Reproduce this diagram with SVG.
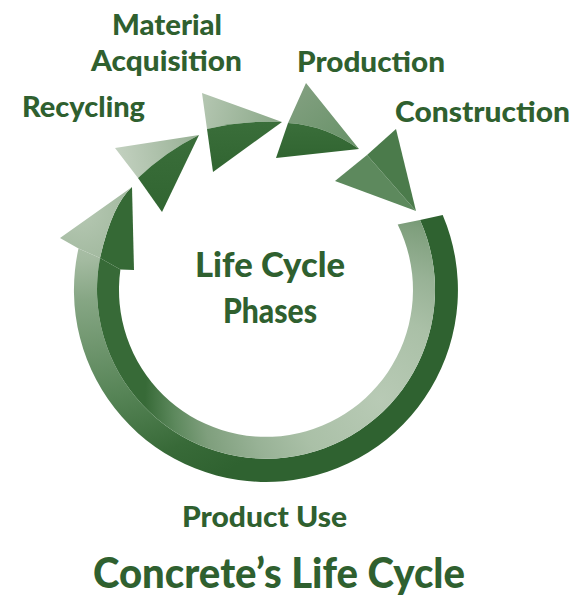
<svg xmlns="http://www.w3.org/2000/svg" width="572" height="599" viewBox="0 0 572 599">
  <style>
    .lbl { font-family: Lato, "Open Sans", "Liberation Sans", sans-serif; font-weight: 900; fill: #2f602f; }
    .dark { fill: #356935; }
  </style>
  <defs>
    <radialGradient id="outerGrad" gradientUnits="userSpaceOnUse" cx="80" cy="210" r="300">
      <stop offset="0" stop-color="#b6c8b3"/>
      <stop offset="0.17" stop-color="#a3baa0"/>
      <stop offset="0.3" stop-color="#86a684"/>
      <stop offset="0.63" stop-color="#568456"/>
      <stop offset="0.85" stop-color="#386a38"/>
      <stop offset="1" stop-color="#2f6230"/>
    </radialGradient>
    <radialGradient id="innerGrad" gradientUnits="userSpaceOnUse" cx="380" cy="400" r="235">
      <stop offset="0" stop-color="#b8cab5"/>
      <stop offset="0.35" stop-color="#aac0a7"/>
      <stop offset="0.55" stop-color="#98b296"/>
      <stop offset="0.75" stop-color="#7f9f7d"/>
      <stop offset="0.88" stop-color="#5c885c"/>
      <stop offset="1" stop-color="#376a37"/>
    </radialGradient>
    <linearGradient id="t1Light" gradientUnits="userSpaceOnUse" x1="115" y1="148" x2="199" y2="135">
      <stop offset="0" stop-color="#c3d1c0"/>
      <stop offset="1" stop-color="#97b094"/>
    </linearGradient>
    <linearGradient id="t2Light" gradientUnits="userSpaceOnUse" x1="202" y1="100" x2="282" y2="122">
      <stop offset="0" stop-color="#b4c6b1"/>
      <stop offset="1" stop-color="#8aa888"/>
    </linearGradient>
    <linearGradient id="t3Light" gradientUnits="userSpaceOnUse" x1="300" y1="90" x2="340" y2="140">
      <stop offset="0" stop-color="#819f7f"/>
      <stop offset="1" stop-color="#6c946c"/>
    </linearGradient>
    <linearGradient id="darkGrad" x1="0" y1="0" x2="0" y2="1">
      <stop offset="0" stop-color="#3a6e3a"/>
      <stop offset="1" stop-color="#316531"/>
    </linearGradient>
  </defs>

  <g id="connectors">
    <g id="cycle-ring">
      <path id="ring-outer-band" fill="url(#outerGrad)" d="M442.7,215 A192,192 0 1,1 78.5,248.4 L100,258 A169,169 0 1,0 420,220 Z"/>
      <path id="ring-inner-band" fill="url(#innerGrad)" d="M420,220 A169,169 0 1,1 100,258 L120.4,269.5 A147,147 0 1,0 397.7,224.6 Z"/>
      <path id="arrowhead-dark" class="dark" d="M132,187 L134,270 L120.4,269.5 L100,258 Q112,205 132,187 Z"/>
      <path id="arrowhead-light" fill="url(#outerGrad)" d="M78.5,248.4 L60,238 L132,187 Q112,205 100,258 Z"/>
    </g>
    <g id="arrow-recycling">
      <path fill="url(#t1Light)" d="M115,148 L199,135 Q165,152 138,178 Z"/>
      <path fill="url(#darkGrad)" d="M199,135 L162,212 L138,178 Q165,152 199,135 Z"/>
    </g>
    <g id="arrow-acquisition">
      <path fill="url(#t2Light)" d="M202,93 L282,122 Q245,120 207,129 Z"/>
      <path fill="url(#darkGrad)" d="M282,122 L213,172 L207,129 Q245,120 282,122 Z"/>
    </g>
    <g id="arrow-production">
      <path fill="url(#t3Light)" d="M306,83 L359,149 Q325,125 288,123 Z"/>
      <path fill="url(#darkGrad)" d="M359,149 L276,158 L288,123 Q325,125 359,149 Z"/>
    </g>
    <g id="arrow-construction">
      <path fill="#5d895d" d="M367,155 L335,181 L416,211 Z"/>
      <path fill="#4b7b4b" d="M396,129 L367,155 L416,211 Z"/>
    </g>
  </g>

  <g id="node-material-acquisition">
    <text class="lbl" x="112" y="35" font-size="28" textLength="110" lengthAdjust="spacingAndGlyphs">Material</text>
    <text class="lbl" x="91" y="71" font-size="28" textLength="151" lengthAdjust="spacingAndGlyphs">Acquisition</text>
  </g>
  <g id="node-recycling">
    <text class="lbl" x="22" y="117" font-size="28" textLength="123" lengthAdjust="spacingAndGlyphs">Recycling</text>
  </g>
  <g id="node-production">
    <text class="lbl" x="297" y="72" font-size="29" textLength="148" lengthAdjust="spacingAndGlyphs">Production</text>
  </g>
  <g id="node-construction">
    <text class="lbl" x="395" y="122" font-size="29" textLength="175" lengthAdjust="spacingAndGlyphs">Construction</text>
  </g>
  <g id="node-center">
    <text class="lbl" x="195" y="277" font-size="34" textLength="150" lengthAdjust="spacingAndGlyphs">Life Cycle</text>
    <text class="lbl" x="223" y="323" font-size="34" textLength="94" lengthAdjust="spacingAndGlyphs">Phases</text>
  </g>
  <g id="node-product-use">
    <text class="lbl" x="182" y="527" font-size="28" textLength="165" lengthAdjust="spacingAndGlyphs">Product Use</text>
  </g>
  <g id="title">
    <text class="lbl" x="93" y="588" font-size="42" textLength="372" lengthAdjust="spacingAndGlyphs">Concrete’s Life Cycle</text>
  </g>
</svg>
